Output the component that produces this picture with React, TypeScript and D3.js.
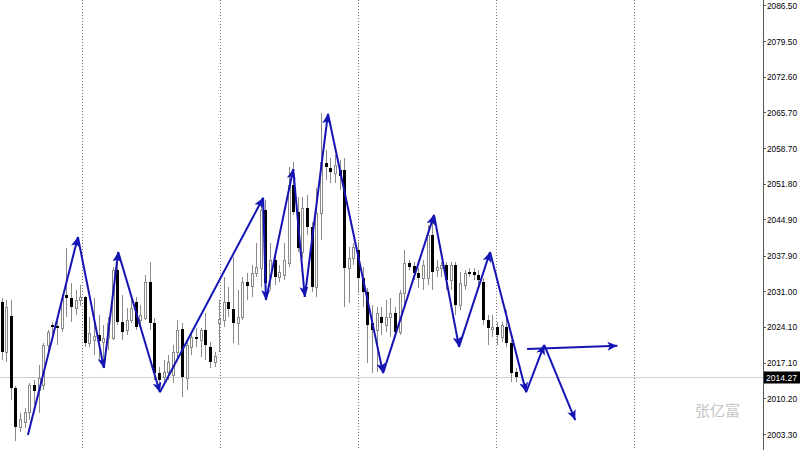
import React from "react";
import * as d3 from "d3";

const opens = [2028.9,2019.2,2026.2,2012.2,2004.7,2005.6,2007.6,2012.8,2011.8,2012.8,2020.6,2024.5,2024.3,2023.9,2030.3,2029.7,2027.8,2029.3,2029.9,2021.0,2021.5,2022.5,2021.2,2021.9,2021.9,2035.1,2025.0,2023.5,2025.4,2028.9,2025.4,2025.8,2032.8,2024.8,2015.1,2014.4,2015.3,2014.8,2019.2,2023.7,2014.2,2020.2,2022.1,2021.5,2023.5,2020.2,2017.3,2024.8,2025.4,2028.9,2027.6,2024.8,2026.0,2032.8,2032.0,2034.5,2035.5,2046.8,2033.8,2037.1,2033.8,2034.2,2036.5,2051.6,2046.4,2038.6,2047.2,2043.5,2031.8,2046.2,2055.9,2054.9,2053.9,2054.5,2054.5,2035.5,2037.5,2039.0,2033.6,2030.9,2024.8,2023.5,2026.0,2024.5,2026.0,2026.8,2023.1,2030.7,2036.5,2035.9,2034.5,2033.6,2033.6,2041.9,2035.1,2035.5,2036.1,2033.2,2036.1,2028.3,2032.2,2034.7,2034.7,2034.2,2032.8,2025.4,2023.7,2024.1,2022.1,2024.1,2021.0,2015.3];
const highs = [2029.7,2029.3,2029.3,2012.6,2007.4,2008.4,2013.2,2013.8,2016.7,2021.0,2023.5,2025.0,2026.2,2030.1,2039.4,2032.6,2031.2,2032.2,2030.1,2026.0,2029.7,2026.4,2024.5,2026.0,2035.7,2036.5,2030.3,2027.8,2029.9,2029.9,2028.3,2034.2,2036.7,2025.8,2016.3,2017.7,2018.6,2020.6,2025.4,2024.8,2021.5,2023.1,2023.9,2023.9,2026.8,2021.2,2019.2,2029.3,2033.8,2031.8,2037.6,2031.2,2033.8,2034.5,2036.1,2040.4,2047.3,2048.7,2040.4,2038.0,2036.1,2040.4,2055.1,2056.1,2049.3,2049.3,2049.7,2044.4,2051.0,2065.6,2058.4,2056.9,2057.4,2056.5,2056.9,2039.6,2040.4,2040.6,2035.7,2031.6,2028.3,2027.9,2027.9,2029.3,2029.7,2027.9,2031.2,2039.0,2037.1,2036.7,2035.5,2037.1,2043.9,2044.8,2037.1,2036.7,2036.7,2036.7,2036.7,2034.7,2035.1,2035.5,2035.5,2035.1,2033.6,2026.4,2026.4,2025.0,2025.0,2027.4,2021.5,2016.1];
const lows = [2017.7,2017.3,2009.9,2002.0,2003.7,2004.5,2006.0,2008.9,2007.4,2011.8,2019.2,2022.5,2020.6,2023.1,2026.0,2025.0,2026.4,2028.1,2020.2,2020.2,2018.6,2017.7,2016.7,2019.6,2021.5,2024.5,2021.5,2022.5,2024.8,2023.5,2024.1,2025.4,2023.5,2013.8,2011.5,2012.8,2013.8,2013.2,2017.7,2010.5,2011.8,2018.6,2020.2,2018.2,2017.7,2016.1,2016.3,2019.2,2024.1,2026.0,2021.0,2020.6,2025.4,2029.3,2029.9,2033.8,2031.8,2029.3,2031.2,2032.2,2032.8,2033.2,2035.7,2045.8,2038.6,2037.5,2041.9,2030.9,2029.9,2040.9,2052.6,2052.0,2052.0,2050.6,2027.9,2028.7,2036.1,2030.7,2027.9,2017.1,2015.1,2015.3,2022.5,2023.1,2022.1,2022.5,2022.5,2027.9,2035.1,2033.2,2031.6,2031.2,2032.2,2031.2,2033.8,2033.8,2031.2,2031.2,2026.4,2027.4,2031.2,2033.8,2033.2,2032.2,2024.5,2020.6,2022.1,2020.6,2021.2,2020.2,2013.4,2013.4];
const closes = [2019.2,2027.9,2012.2,2004.7,2006.2,2007.6,2012.8,2011.7,2014.2,2020.6,2023.1,2024.1,2023.9,2029.7,2029.7,2027.9,2029.3,2029.9,2021.0,2022.9,2022.3,2021.4,2021.9,2024.8,2035.1,2025.0,2023.1,2025.4,2027.8,2024.1,2026.4,2032.8,2024.8,2015.1,2013.8,2015.3,2017.3,2019.2,2023.5,2014.4,2020.6,2022.1,2021.7,2023.5,2020.6,2017.3,2018.4,2025.6,2028.9,2027.6,2024.8,2026.0,2032.8,2032.0,2034.5,2035.7,2046.8,2032.6,2037.1,2033.8,2034.7,2037.1,2051.6,2046.4,2039.4,2047.2,2043.5,2031.8,2046.2,2056.1,2055.1,2054.1,2055.5,2053.4,2035.5,2037.5,2039.6,2033.6,2030.9,2024.5,2023.5,2026.8,2024.8,2026.0,2026.8,2023.1,2030.7,2036.5,2035.7,2034.5,2033.6,2036.1,2041.9,2034.7,2035.7,2036.1,2033.2,2036.1,2028.3,2032.6,2034.5,2034.3,2034.2,2033.2,2025.4,2023.9,2024.1,2022.5,2024.5,2021.0,2015.1,2014.3];

const priceTicks = [2086.5, 2079.5, 2072.6, 2065.7, 2058.7, 2051.8, 2044.9, 2037.9, 2031.0, 2024.1, 2017.1, 2010.2, 2003.3];
const tickLabels = ["2086.50", "2079.50", "2072.60", "2065.70", "2058.70", "2051.80", "2044.90", "2037.90", "2031.00", "2024.10", "2017.10", "2010.20", "2003.30"];
const gridBars = [17.4, 47.2, 77.0, 106.8, 136.6];
const currentPrice = 2014.27;
const currentLabel = "2014.27";

const zigIdx = [5.7, 16.5, 22.1, 25.2, 34.2, 56.5, 57.1, 63.0, 65.5, 70.5, 82.4, 93.4, 98.8, 105.5, 113.3, 117.2, 123.9];
const zigPrice = [2003.1, 2041.5, 2016.1, 2038.6, 2011.4, 2049.1, 2029.3, 2054.7, 2029.9, 2065.4, 2015.1, 2045.8, 2020.2, 2038.6, 2011.4, 2020.6, 2006.0];
const flatIdx = [113.5, 133.0];
const flatPrice = [2019.8, 2020.4];

const watermark = "张亿富";

export default function App() {
  const W = 800, H = 450;
  const axisX = 763;
  const x = d3.scaleLinear().domain([0, 111]).range([1.5, 515.5]);
  const y = d3.scaleLinear().domain([2003.3, 2086.5]).range([434, 5]);
  const arrowColor = "#1414b4";
  const wick = "#8a8a8a";
  const labelFont = "'Liberation Sans', Arial, sans-serif";

  const segs: [number, number, number, number][] = [];
  for (let k = 1; k < zigIdx.length; k++) {
    segs.push([x(zigIdx[k - 1]), y(zigPrice[k - 1]), x(zigIdx[k]), y(zigPrice[k])]);
  }
  segs.push([x(flatIdx[0]), y(flatPrice[0]), x(flatIdx[1]), y(flatPrice[1])]);

  const cy = Math.round(y(currentPrice)) + 0.5;

  return (
    <svg width={W} height={H} style={{ position: "absolute", left: 0, top: 0, background: "#fff" }}>
      <defs>
        <marker id="ah" markerUnits="userSpaceOnUse" markerWidth={11} markerHeight={9} refX={10} refY={4.5} orient="auto">
          <path d="M0,0 L10,4.5 L0,9 L2.5,4.5 z" fill={arrowColor} />
        </marker>
      </defs>
      <rect x={0} y={0} width={W} height={H} fill="#fff" />
      {gridBars.map((g, i) => (
        <line key={"g" + i} x1={Math.round(x(g)) + 0.5} x2={Math.round(x(g)) + 0.5} y1={0} y2={H}
          stroke="#777" strokeWidth={1} strokeDasharray="1,2" />
      ))}
      <line x1={0} x2={axisX} y1={cy} y2={cy} stroke="#cfcfcf" strokeWidth={1} />
      {opens.map((o, i) => {
        const c = closes[i];
        const cx = Math.round(x(i));
        const top = Math.round(y(Math.max(o, c)));
        const bot = Math.round(y(Math.min(o, c)));
        const bull = c >= o;
        return (
          <g key={"c" + i}>
            <line x1={cx + 0.5} x2={cx + 0.5} y1={Math.round(y(highs[i]))} y2={Math.round(y(lows[i]))} stroke={wick} strokeWidth={1} />
            {bull ? (
              <rect x={cx - 0.5} y={top + 0.5} width={2} height={Math.max(1, bot - top)} fill="#fff" stroke={wick} strokeWidth={1} />
            ) : (
              <rect x={cx - 1} y={top} width={3} height={Math.max(2, bot - top)} fill="#000" />
            )}
          </g>
        );
      })}
      {segs.map((s, i) => (
        <line key={"a" + i} x1={s[0]} y1={s[1]} x2={s[2]} y2={s[3]} stroke={arrowColor} strokeWidth={2} markerEnd="url(#ah)" />
      ))}
      <text x={740} y={416} textAnchor="end" fontFamily="'Noto Sans CJK SC'" fontSize={15} fill="#c4c4c4">{watermark}</text>
      <line x1={axisX + 0.5} x2={axisX + 0.5} y1={0} y2={H} stroke="#555" strokeWidth={1} />
      {priceTicks.map((p, i) => (
        <g key={"t" + i}>
          <line x1={axisX} x2={axisX + 3} y1={Math.round(y(p)) + 0.5} y2={Math.round(y(p)) + 0.5} stroke="#555" />
          <text x={767} y={y(p) + 3.5} fontFamily={labelFont} fontSize={9.5} textLength={30} lengthAdjust="spacingAndGlyphs" fill="#000">{tickLabels[i]}</text>
        </g>
      ))}
      <rect x={axisX + 1} y={cy - 6} width={W - axisX - 1} height={12} fill="#000" />
      <text x={766} y={cy + 3.5} fontFamily={labelFont} fontSize={9.5} textLength={31} lengthAdjust="spacingAndGlyphs" fill="#fff">{currentLabel}</text>
    </svg>
  );
}
